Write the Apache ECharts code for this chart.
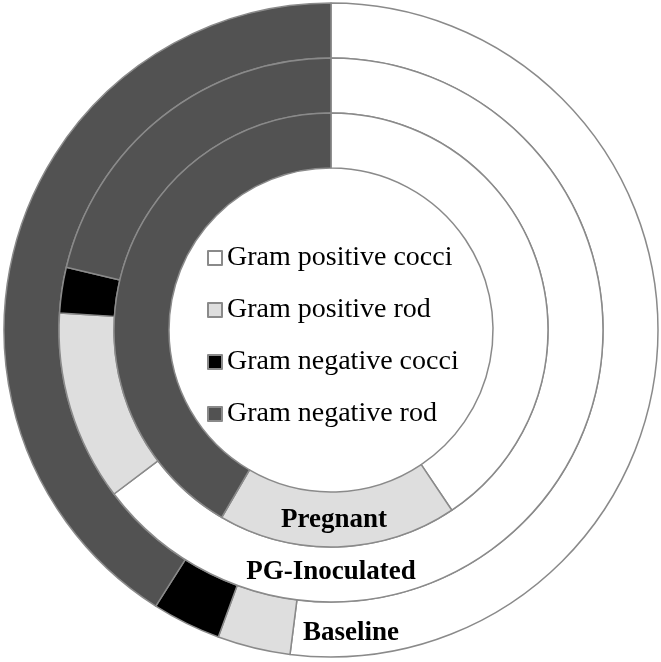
<!DOCTYPE html>
<html>
<head>
<meta charset="utf-8">
<script src="https://cdn.jsdelivr.net/npm/echarts@6/dist/echarts.min.js"></script>
<style>
html,body{margin:0;padding:0;background:#fff;}
#chart{width:661px;height:662px;}
</style>
</head>
<body>
<div id="chart"></div>
<script>
const categories = ['Gram positive cocci', 'Gram positive rod', 'Gram negative cocci', 'Gram negative rod'];
const baseline = [52.0, 3.6, 3.4, 41.0];
const pgInoculated = [64.7, 11.3, 2.7, 21.3];
const pregnant = [40.6, 17.8, 0, 41.6];
const ringNames = ['Baseline', 'PG-Inoculated', 'Pregnant'];
const colors = ['#ffffff', '#dedede', '#000000', '#525252'];

const chart = echarts.init(document.getElementById('chart'), null, {renderer: 'canvas'});
const cx = 331, cy = 330;

function makeSeries(name, values, r0, r1) {
  return {
    name: name,
    type: 'pie',
    center: [cx, cy],
    radius: [r0, r1],
    startAngle: 90,
    clockwise: true,
    silent: true,
    z: 2,
    label: {show: false},
    labelLine: {show: false},
    itemStyle: {borderColor: '#8a8a8a', borderWidth: 1.5},
    data: categories.map((c, i) => ({name: c, value: values[i], itemStyle: {color: colors[i]}}))
  };
}

const serif = "'Liberation Serif', 'Times New Roman', serif";

function ringLabel(text, x, y) {
  return {
    type: 'text', x: x, y: y, z: 100, zlevel: 1, silent: true,
    style: {text: text, font: "bold 27px " + serif, fill: '#000', align: 'center', verticalAlign: 'middle'}
  };
}

chart.setOption({
  animation: false,
  backgroundColor: '#ffffff',
  legend: {
    orient: 'vertical',
    left: 202,
    top: 239,
    itemWidth: 14,
    itemHeight: 14,
    itemGap: 24,
    icon: 'rect',
    selectedMode: false,
    data: categories,
    textStyle: {fontFamily: serif, fontSize: 28, color: '#000'}
  },
  series: [
    makeSeries(ringNames[0], baseline, 272, 327),
    makeSeries(ringNames[1], pgInoculated, 217, 272),
    makeSeries(ringNames[2], pregnant, 162, 217)
  ],
  graphic: {
    elements: [
      ringLabel(ringNames[2], 334, 520),
      ringLabel(ringNames[1], 331, 572),
      ringLabel(ringNames[0], 351, 633)
    ]
  }
});
</script>
</body>
</html>
